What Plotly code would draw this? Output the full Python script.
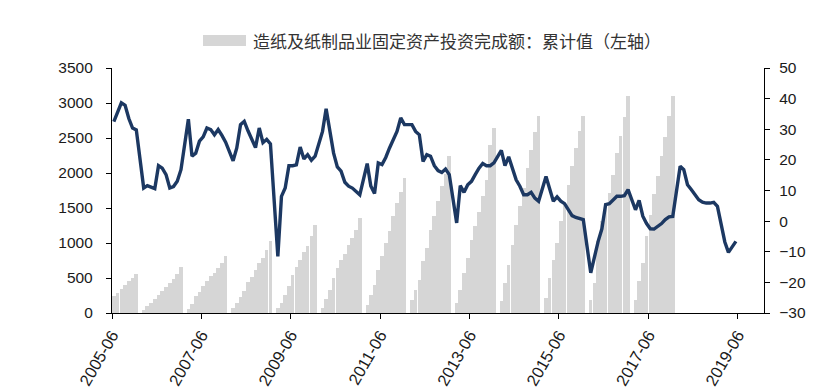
import pandas as pd
import plotly.graph_objects as go

# ---------------- data ----------------
# Year-on-year growth (%), monthly from 2005-06 to 2019-05 (None = January, not published)
line_start = "2005-06"
yoy_growth = [
    32.5, 35.5, 38.6, 37.8, 33.5, 30.4, 29.8,                                   # 2005 Jun-Dec
    None, 10.8, 11.6, 11.1, 10.6, 18.1, 17.3, 15.2, 10.8, 11.3, 13.0, 16.8,     # 2006
    None, 33.3, 21.2, 22.2, 26.1, 27.5, 30.4, 29.9, 28.2, 29.9, 28.0, 25.8,     # 2007
    None, 19.7, 23.9, 31.5, 32.6, 29.5, 27.0, 24.0, 30.4, 25.6, 26.7, 25.2,     # 2008
    None, -11.5, 8.1, 10.8, 18.1, 18.1, 18.4, 24.2, 20.3, 21.7, 19.9, 21.2,     # 2009
    None, 29.3, 36.7, 29.9, 22.2, 17.7, 16.3, 12.7, 11.4, 10.8, 9.7, 8.6,       # 2010
    None, 18.8, 11.5, 9.0, 19.0, 18.5, 20.8, 23.9, 26.6, 29.3, 33.7, 31.5,      # 2011
    None, 31.5, 29.3, 28.2, 19.5, 21.7, 21.2, 18.1, 16.5, 15.9, 17.0, 15.2,     # 2012
    None, -0.6, 11.6, 9.4, 11.9, 13.0, 15.2, 17.3, 18.8, 18.1, 18.1, 19.0,      # 2013
    None, 23.1, 18.1, 21.0, 16.8, 13.5, 11.4, 8.6, 8.6, 9.4, 7.5, 6.5,          # 2014
    None, 14.6, 10.8, 6.5, 7.9, 6.5, 5.7, 3.7, 1.8, 1.2, 0.8, 0.5,              # 2015
    None, -16.9, -11.5, -6.6, -2.5, 5.4, 5.7, 7.0, 8.1, 8.1, 8.3, 10.3,         # 2016
    None, 3.7, 6.8, 1.6, -0.8, -2.5, -2.6, -1.8, -0.8, 0.5, 1.4, 1.5,           # 2017
    None, 17.9, 16.8, 11.9, 10.3, 8.5, 7.0, 6.2, 5.9, 5.9, 6.1, 4.8,            # 2018
    None, -6.8, -10.2, -8.2, -6.6,                                              # 2019 Jan-May
]

# Cumulative investment (left axis), Feb-Dec of each year (2005: Jun-Dec)
cum_2005 = [245, 290, 338, 395, 455, 495, 560]
cum_2006 = [45, 100, 150, 200, 260, 320, 370, 430, 490, 560, 657]
cum_2007 = [55, 130, 240, 300, 381, 452, 524, 576, 643, 714, 810]
cum_2008 = [70, 140, 230, 310, 450, 520, 620, 720, 785, 905, 1025]
cum_2009 = [70, 143, 262, 381, 548, 657, 762, 867, 952, 1095, 1252]
cum_2010 = [70, 200, 333, 500, 643, 760, 848, 976, 1071, 1190, 1357]
cum_2011 = [119, 262, 405, 619, 810, 1000, 1167, 1381, 1571, 1724, 1929]
cum_2012 = [190, 333, 476, 738, 929, 1190, 1381, 1600, 1820, 1990, 2238]
cum_2013 = [143, 330, 571, 790, 1050, 1240, 1450, 1670, 1900, 2405, 2643]
cum_2014 = [167, 429, 690, 976, 1262, 1524, 1786, 2071, 2333, 2581, 2810]
cum_2015 = [214, 500, 760, 1000, 1310, 1570, 1830, 2100, 2360, 2600, 2819]
cum_2016 = [190, 429, 1024, 1310, 1571, 1714, 1976, 2286, 2533, 2800, 3105]
cum_2017 = [180, 452, 714, 1100, 1405, 1700, 1960, 2250, 2520, 2820, 3105]

bar_series = [
    (2005, 6, cum_2005), (2006, 2, cum_2006), (2007, 2, cum_2007), (2008, 2, cum_2008),
    (2009, 2, cum_2009), (2010, 2, cum_2010), (2011, 2, cum_2011), (2012, 2, cum_2012),
    (2013, 2, cum_2013), (2014, 2, cum_2014), (2015, 2, cum_2015), (2016, 2, cum_2016),
    (2017, 2, cum_2017),
]

tick_labels = ["2005-06", "2007-06", "2009-06", "2011-06", "2013-06", "2015-06", "2017-06", "2019-06"]
bar_name = "造纸及纸制品业固定资产投资完成额：累计值（左轴）"
line_name = "造纸及纸制品业固定资产投资完成额：累计同比（右轴）"

# ---------------- helpers ----------------
def month_mid(year, month):
    start = pd.Timestamp(year=year, month=month, day=1)
    nxt = start + pd.offsets.MonthBegin(1)
    return start + (nxt - start) / 2, (nxt - start)

bar_x, bar_y, bar_w = [], [], []
for year, m0, vals in bar_series:
    for i, v in enumerate(vals):
        mid, length = month_mid(year, m0 + i)
        bar_x.append(mid)
        bar_y.append(v)
        bar_w.append(length.total_seconds() * 1000 * 0.97)

start = pd.Timestamp(line_start + "-01")
line_x = []
for i in range(len(yoy_growth)):
    d = start + pd.DateOffset(months=i)
    line_x.append(month_mid(d.year, d.month)[0])

# ---------------- figure ----------------
FONT = "Liberation Sans"
fig = go.Figure()
fig.add_trace(go.Bar(
    x=bar_x, y=bar_y, width=bar_w, name=bar_name,
    marker=dict(color="#d6d6d6", line=dict(width=0)),
    showlegend=False, yaxis="y",
))
fig.add_trace(go.Scatter(
    x=line_x, y=yoy_growth, name=line_name, mode="lines",
    line=dict(color="#1c3862", width=3.4), connectgaps=True,
    showlegend=False, yaxis="y2",
))

# page has an 8px body margin: figure occupies page pixels 8..833 / 8..392
OFF = 8
W, H = 833 - OFF, 392 - OFF
PL, PR, PT, PB = 112, 764, 68, 313          # plot area in page pixels
L, R, T, B = PL - OFF, W - (PR - OFF), PT - OFF, H - (PB - OFF)

fig.update_layout(
    width=W, height=H,
    margin=dict(l=L, r=R, t=T, b=B, autoexpand=False),
    paper_bgcolor="white", plot_bgcolor="white",
    font=dict(family=FONT, size=15, color="#1a1a1a"),
    xaxis=dict(
        type="date", range=["2005-06-01", "2020-01-01"], automargin=False,
        tickvals=[t + "-01" for t in tick_labels], ticktext=tick_labels,
        tickangle=-60, ticks="outside", ticklen=5, tickcolor="black",
        showline=True, linecolor="black", linewidth=1.3, showgrid=False, zeroline=False,
        tickfont=dict(family=FONT, size=16.5),
    ),
    yaxis=dict(
        range=[0, 3500], dtick=500, ticks="outside", ticklen=5, tickcolor="black",
        showline=True, linecolor="black", linewidth=1.3, showgrid=False, zeroline=False,
        automargin=False, ticklabelstandoff=10, tickfont=dict(family=FONT, size=15.5),
    ),
    yaxis2=dict(
        range=[-30, 50], dtick=10, overlaying="y", side="right",
        ticks="outside", ticklen=5, tickcolor="black", automargin=False,
        showline=True, linecolor="black", linewidth=1.3, showgrid=False, zeroline=False,
        ticklabelstandoff=6, tickfont=dict(family=FONT, size=15.5),
    ),
    bargap=0,
)

# legend (drawn as swatch + text), positions given in page pixels
pw, ph = PR - PL, PB - PT
def px_to_paper(px, py):
    return (px - PL) / pw, (PB - py) / ph

x0, y0 = px_to_paper(203, 46)
x1, y1 = px_to_paper(246, 35)
fig.add_shape(type="rect", xref="paper", yref="paper", x0=x0, x1=x1, y0=y0, y1=y1,
              fillcolor="#d6d6d6", line=dict(width=0))
tx, ty = px_to_paper(251, 40.5)
fig.add_annotation(xref="paper", yref="paper", x=tx, y=ty, xanchor="left", yanchor="middle",
                   text=bar_name, showarrow=False,
                   font=dict(family="Noto Sans CJK SC", size=17, color="#333333"))

fig.write_html("out.html")
